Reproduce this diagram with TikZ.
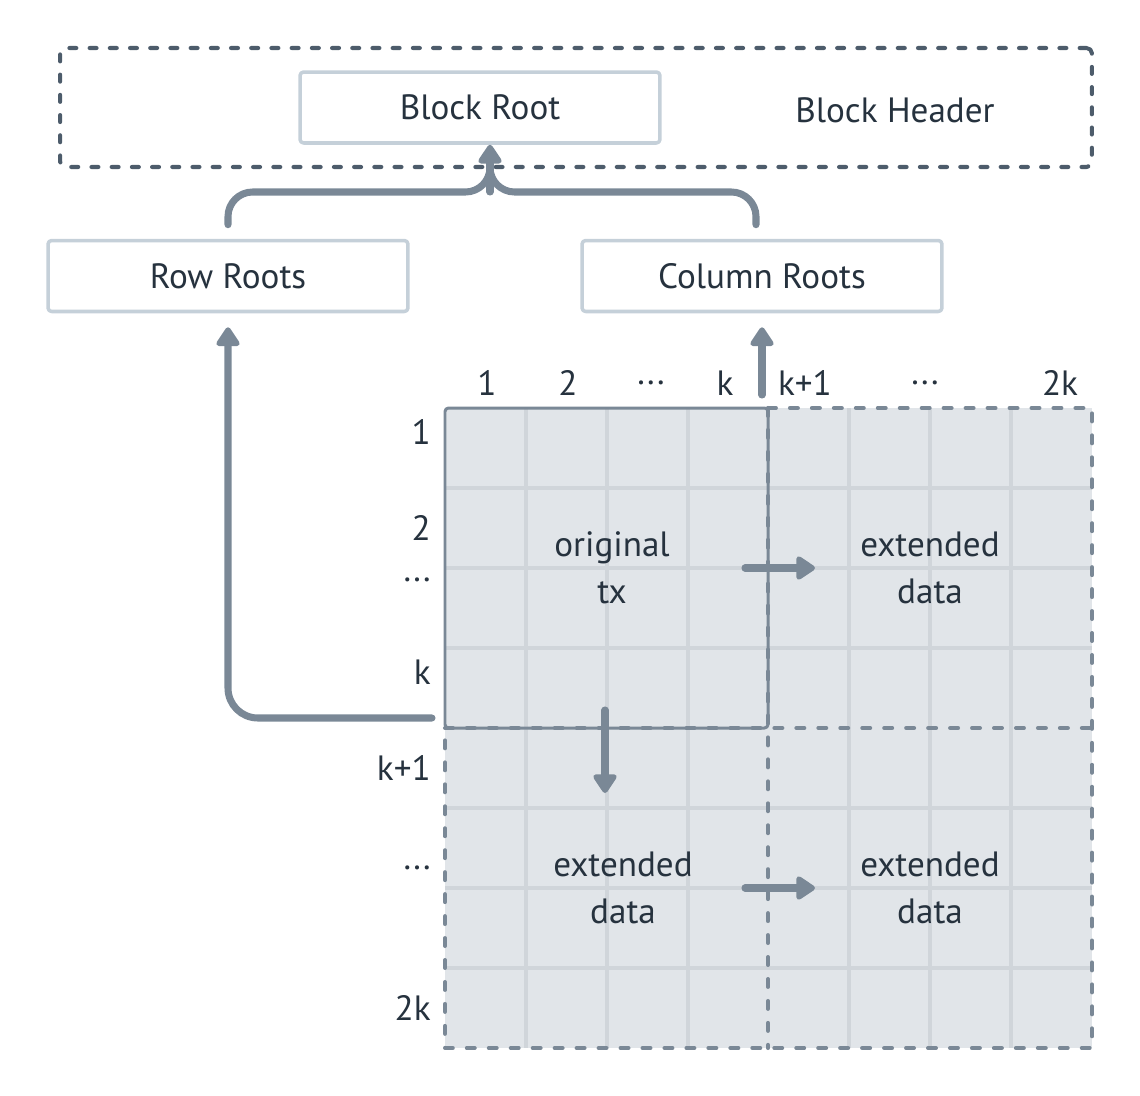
\documentclass[tikz,border=0pt]{standalone}
\usepackage{fontspec}
\setmainfont{PT Sans}
\usetikzlibrary{arrows.meta}
\definecolor{ink}{HTML}{26323E}
\definecolor{slate}{HTML}{7A8896}
\definecolor{slatedk}{HTML}{4D5C6B}
\definecolor{boxline}{HTML}{C5D0D9}
\definecolor{cell}{HTML}{E1E5E9}
\definecolor{cellline}{HTML}{D0D5DA}
\newcommand{\tridots}{...}
\tikzset{fig/.style={line join=round,>={Triangle[width=15pt,length=12pt,round]}}}
\tikzset{
  rootbox/.style={draw=boxline,line width=2pt,rounded corners=2pt,fill=white,
    minimum width=7.2cm,minimum height=1.42cm,text=ink},
  lbl/.style={text=ink,inner sep=0pt},
  conn/.style={slate,line width=4pt,line cap=round,->},
  dashedge/.style={slate,line width=2.3pt,line cap=round,dash pattern=on 4.5pt off 8pt}
}
\begin{document}
\begin{tikzpicture}[fig,x=0.02cm,y=-0.02cm,font=\fontsize{20}{27}\selectfont]
  \useasboundingbox (0,0) rectangle (1140,1096);
  % header
  \node[draw=slatedk,line width=2.3pt,line cap=round,dash pattern=on 4pt off 7.5pt,rounded corners=3pt,
    minimum width=20.64cm,minimum height=2.38cm] (header) at (576,107.5) {};
  \node[lbl] (hdrtext) at (895,110) {Block Header};
  \node[rootbox] (blockroot) at (480,107.5) {Block Root};
  \node[rootbox] (rowroots) at (228,276) {Row Roots};
  \node[rootbox] (colroots) at (762,276) {Column Roots};
  % data square
  \fill[cell] (445,408) rectangle (1092,1048);
  \foreach \x in {526,607,688,849,930,1011}
    \draw[cellline,line width=2.2pt] (\x,408) -- (\x,1048);
  \foreach \y in {488,568,648,808,888,968}
    \draw[cellline,line width=2.2pt] (445,\y) -- (1092,\y);
  \draw[dashedge] (768,408) -- (1092,408) -- (1092,1048) -- (445,1048) -- (445,728);
  \draw[dashedge] (445,728) -- (1092,728);
  \draw[dashedge] (768,408) -- (768,1048);
  \draw[slate,line width=1.7pt,rounded corners=2pt] (445,408) rectangle (768,728);
  % labels
  \foreach \x/\t in {487/1,568/2,651/\tridots,725/k,805/k+1,925/\tridots,1060/2k}
    \node[lbl] at (\x,383) {\t};
  \foreach \y/\t in {432/1,528/2,580/\tridots,672/k,768/k+1,868/\tridots,1008/2k}
    \node[lbl,anchor=east] at (431,\y) {\t};
  \node[lbl,align=center] (orig) at (612,568) {original\\tx};
  \node[lbl,align=center] (extr) at (930,568) {extended\\data};
  \node[lbl,align=center] (extb) at (623,888) {extended\\data};
  \node[lbl,align=center] (extbr) at (930,888) {extended\\data};
  % connectors
  \coordinate (join) at (490,192);
  \coordinate (rowsrc) at (432,718);
  \coordinate (colsrc) at (762,395);
  \draw[conn,-,rounded corners=14pt,shorten <=8pt] (rowroots.north) |- (join) -- ++(0,-12);
  \draw[conn,-,rounded corners=14pt,shorten <=8pt] ([xshift=-0.12cm]colroots.north) |- (join) -- ++(0,-12);
  \draw[conn] (join) -- (join |- blockroot.south);
  \draw[conn,rounded corners=17pt,shorten >=8pt] (rowsrc) -| (rowroots.south);
  \draw[conn,shorten >=8pt] (colsrc) -- (colroots.south);
  \draw[conn] (745,568) -- (815,568);
  \draw[conn] (745,888) -- (815,888);
  \draw[conn] (605,710) -- (605,793);
\end{tikzpicture}
\end{document}
